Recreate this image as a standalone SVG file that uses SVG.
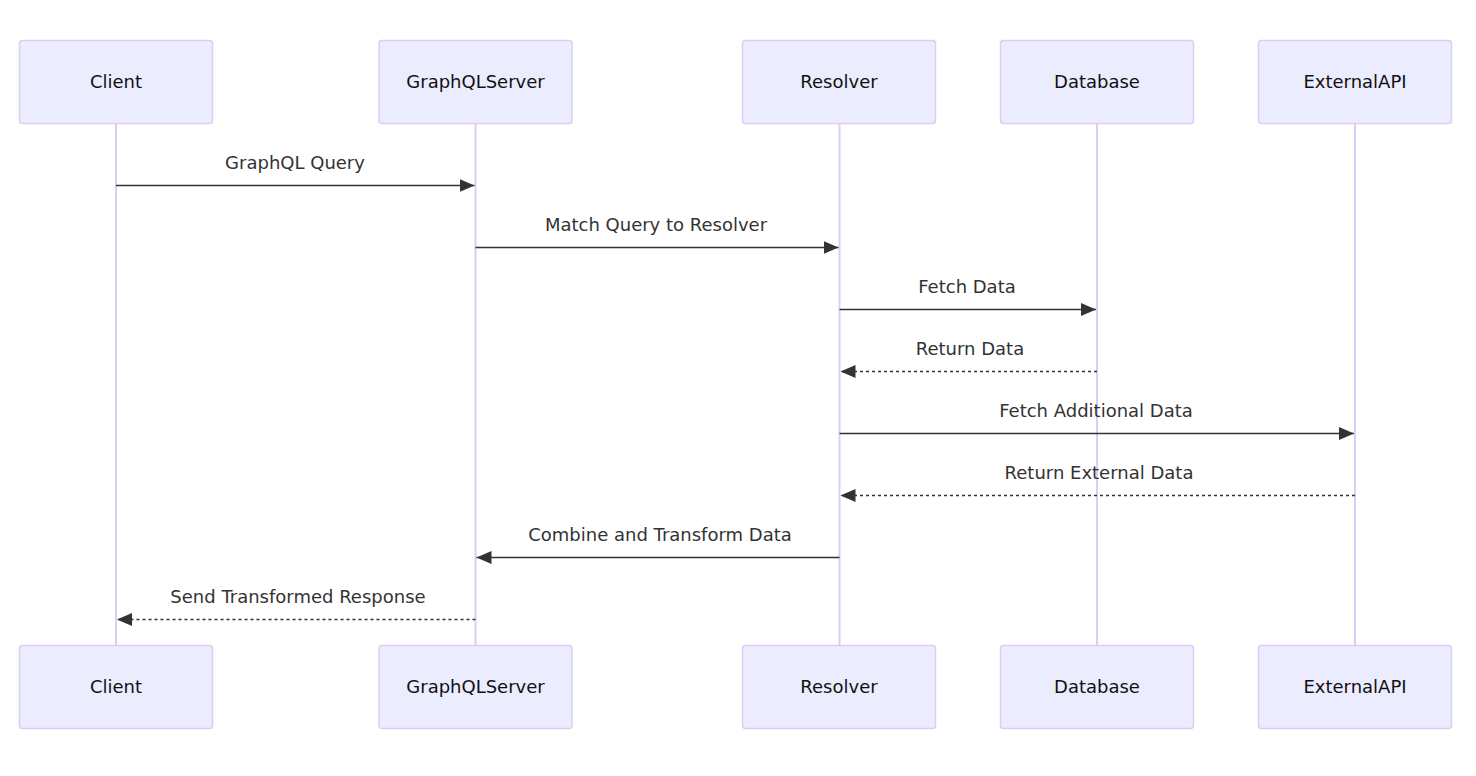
<svg xmlns="http://www.w3.org/2000/svg" width="1476" height="776" viewBox="0 0 1476 776">
<style>
.actor{fill:#ECECFF;stroke:#DACEF3;stroke-width:1.5}
.atext{font-family:"DejaVu Sans",sans-serif;font-size:18px;fill:#111;text-anchor:middle}
.life{stroke:#DACEF3;stroke-width:2}
.msg{stroke:#333;stroke-width:1.7;fill:none}
.dash{stroke-dasharray:3,3}
.mtext{font-family:"DejaVu Sans",sans-serif;font-size:18px;fill:#333;text-anchor:middle}
</style>
<defs>
<marker id="ah" markerUnits="userSpaceOnUse" markerWidth="16" markerHeight="14" refX="15" refY="6.5" orient="auto">
<path d="M0,0 L15,6.5 L0,13 z" fill="#333"/>
</marker>
</defs>
<rect width="1476" height="776" fill="#fff"/>
<g id="lifelines">
<line class="life" x1="116" y1="124" x2="116" y2="645"/>
<line class="life" x1="475.5" y1="124" x2="475.5" y2="645"/>
<line class="life" x1="839.5" y1="124" x2="839.5" y2="645"/>
<line class="life" x1="1097" y1="124" x2="1097" y2="645"/>
<line class="life" x1="1355" y1="124" x2="1355" y2="645"/>
</g>
<g id="client">
<rect class="actor" x="19.5" y="40.5" width="193" height="83" rx="3"/>
<text class="atext" x="116" y="88">Client</text>
<rect class="actor" x="19.5" y="645.5" width="193" height="83" rx="3"/>
<text class="atext" x="116" y="693">Client</text>
</g>
<g id="graphqlserver">
<rect class="actor" x="379" y="40.5" width="193" height="83" rx="3"/>
<text class="atext" x="475.5" y="88">GraphQLServer</text>
<rect class="actor" x="379" y="645.5" width="193" height="83" rx="3"/>
<text class="atext" x="475.5" y="693">GraphQLServer</text>
</g>
<g id="resolver">
<rect class="actor" x="742.5" y="40.5" width="193" height="83" rx="3"/>
<text class="atext" x="839" y="88">Resolver</text>
<rect class="actor" x="742.5" y="645.5" width="193" height="83" rx="3"/>
<text class="atext" x="839" y="693">Resolver</text>
</g>
<g id="database">
<rect class="actor" x="1000.5" y="40.5" width="193" height="83" rx="3"/>
<text class="atext" x="1097" y="88">Database</text>
<rect class="actor" x="1000.5" y="645.5" width="193" height="83" rx="3"/>
<text class="atext" x="1097" y="693">Database</text>
</g>
<g id="externalapi">
<rect class="actor" x="1258.5" y="40.5" width="193" height="83" rx="3"/>
<text class="atext" x="1355" y="88">ExternalAPI</text>
<rect class="actor" x="1258.5" y="645.5" width="193" height="83" rx="3"/>
<text class="atext" x="1355" y="693">ExternalAPI</text>
</g>
<g id="connectors">
<line class="msg" x1="116" y1="185.5" x2="474.5" y2="185.5" marker-end="url(#ah)"/>
<text class="mtext" x="295" y="168.5">GraphQL Query</text>
<line class="msg" x1="475.5" y1="247.5" x2="838.5" y2="247.5" marker-end="url(#ah)"/>
<text class="mtext" x="656" y="230.5">Match Query to Resolver</text>
<line class="msg" x1="839.5" y1="309.5" x2="1096" y2="309.5" marker-end="url(#ah)"/>
<text class="mtext" x="967" y="292.5">Fetch Data</text>
<line class="msg dash" x1="1097" y1="371.5" x2="840.5" y2="371.5" marker-end="url(#ah)"/>
<text class="mtext" x="970" y="354.5">Return Data</text>
<line class="msg" x1="839.5" y1="433.5" x2="1354" y2="433.5" marker-end="url(#ah)"/>
<text class="mtext" x="1096" y="416.5">Fetch Additional Data</text>
<line class="msg dash" x1="1355" y1="495.5" x2="840.5" y2="495.5" marker-end="url(#ah)"/>
<text class="mtext" x="1099" y="478.5">Return External Data</text>
<line class="msg" x1="839.5" y1="557.5" x2="476.5" y2="557.5" marker-end="url(#ah)"/>
<text class="mtext" x="660" y="540.5">Combine and Transform Data</text>
<line class="msg dash" x1="475.5" y1="619.5" x2="117" y2="619.5" marker-end="url(#ah)"/>
<text class="mtext" x="298" y="602.5">Send Transformed Response</text>
</g>
</svg>
